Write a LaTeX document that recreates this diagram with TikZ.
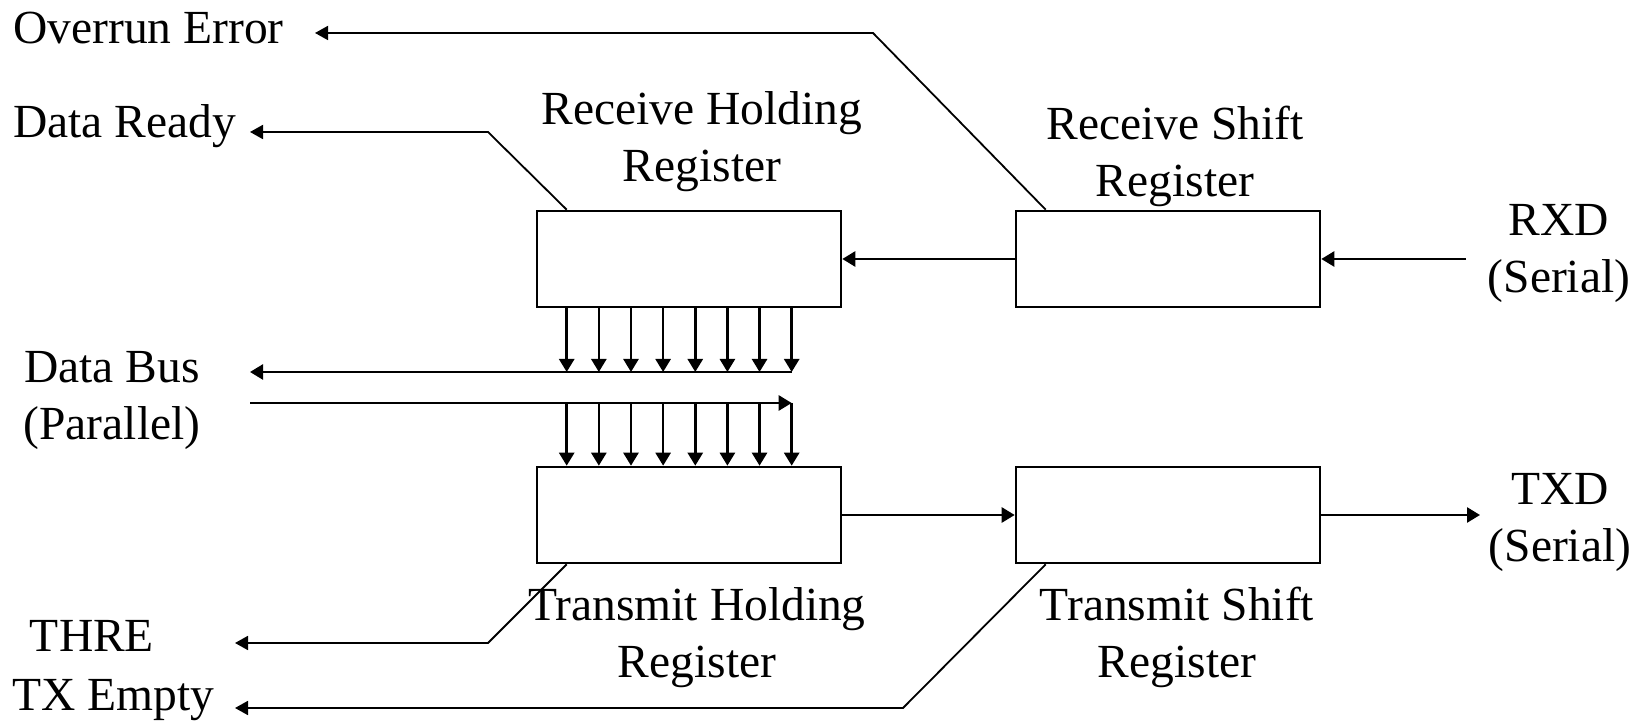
\documentclass[tikz,border=0pt]{standalone}
\usepackage{fontspec}
\setmainfont{Liberation Serif}
\usetikzlibrary{arrows.meta,calc}

\tikzset{
  reg/.style={draw, line width=1.3pt, minimum width=152pt, minimum height=48pt, inner sep=0pt},
  lbl/.style={inner sep=0pt, align=center, font=\fontsize{23.75pt}{28.5pt}\selectfont},
  bus/.style={line width=1.3pt, -{Triangle[length=6.5pt,width=7.5pt]}},
  sig/.style={line width=0.9pt, -{Triangle[length=6.5pt,width=7pt]}},
}

\begin{document}
\begin{tikzpicture}[x=0.5pt, y=0.5pt]
  \def \tapx {31}     % first tap, measured from the left edge of a register
  \def \pitch {32.14} % spacing of the eight bus lines
  \useasboundingbox (0,0) rectangle (1636,722);

  % registers
  \node [reg] (rhr) at (689,463) {};
  \node [reg] (rsr) at (1168,463) {};
  \node [reg] (thr) at (689,207) {};
  \node [reg] (tsr) at (1168,207) {};

  % register names (base = baseline of the last line)
  \node [lbl, anchor=base] (rhr-name) at (702,540) {Receive Holding\\Register};
  \node [lbl, anchor=base] (rsr-name) at (1175,525) {Receive Shift\\Register};
  \node [lbl, anchor=base] (thr-name) at (697,45) {Transmit Holding\\Register};
  \node [lbl, anchor=base] (tsr-name) at (1177,45) {Transmit Shift\\Register};

  % outside signals
  \node [lbl, anchor=base west] (ovr) at (13,678) {Overrun Error};
  \node [lbl, anchor=base west] (rdy) at (13,584) {Data Ready};
  \node [lbl, anchor=base] (dbus) at (112,282) {Data Bus\\(Parallel)};
  \node [lbl, anchor=base] (thre) at (92,70) {THRE};
  \node [lbl, anchor=base west] (txe) at (12,11) {TX Empty};
  \node [lbl, anchor=base] (rxd) at (1559,429) {RXD\\(Serial)};
  \node [lbl, anchor=base] (txd) at (1560,160) {TXD\\(Serial)};

  \coordinate (ovr-tip) at (315,689);
  \coordinate (ovr-bend) at (873,689);
  \coordinate (rdy-tip) at (250,590);
  \coordinate (rdy-bend) at (488,590);
  \coordinate (thre-tip) at (235,79);
  \coordinate (thre-bend) at (488,79);
  \coordinate (txe-tip) at (235,14);
  \coordinate (txe-bend) at (903,14);
  \coordinate (rx-bus) at (250,350);
  \coordinate (tx-bus) at (250,319);
  \coordinate (rxd-in) at (1466,463);
  \coordinate (txd-out) at (1480,207);

  % serial paths
  \draw [bus] (rxd-in) -- (rsr.east);
  \draw [bus] (rsr.west) -- (rhr.east);
  \draw [bus] (thr.east) -- (tsr.west);
  \draw [bus] (tsr.east) -- (txd-out);

  % parallel taps
  \foreach \i in {0,...,7} {
    \coordinate (rx\i) at ($(rhr.south west)+(\tapx+\pitch*\i,0)$);
    \coordinate (tx\i) at ($(thr.north west)+(\tapx+\pitch*\i,0)$);
    \draw [bus] (rx\i) -- (rx\i |- rx-bus);
    \draw [bus] (tx\i |- tx-bus) -- (tx\i);
  }
  \draw [bus] (rx7 |- rx-bus) -- (rx-bus);
  \draw [bus] (tx-bus) -- (tx7 |- tx-bus);

  % status lines
  \draw [sig] ($(rsr.north west)+(\tapx,0)$) -- (ovr-bend) -- (ovr-tip);
  \draw [sig] ($(rhr.north west)+(\tapx,0)$) -- (rdy-bend) -- (rdy-tip);
  \draw [sig] ($(thr.south west)+(\tapx,0)$) -- (thre-bend) -- (thre-tip);
  \draw [sig] ($(tsr.south west)+(\tapx,0)$) -- (txe-bend) -- (txe-tip);
\end{tikzpicture}
\end{document}
